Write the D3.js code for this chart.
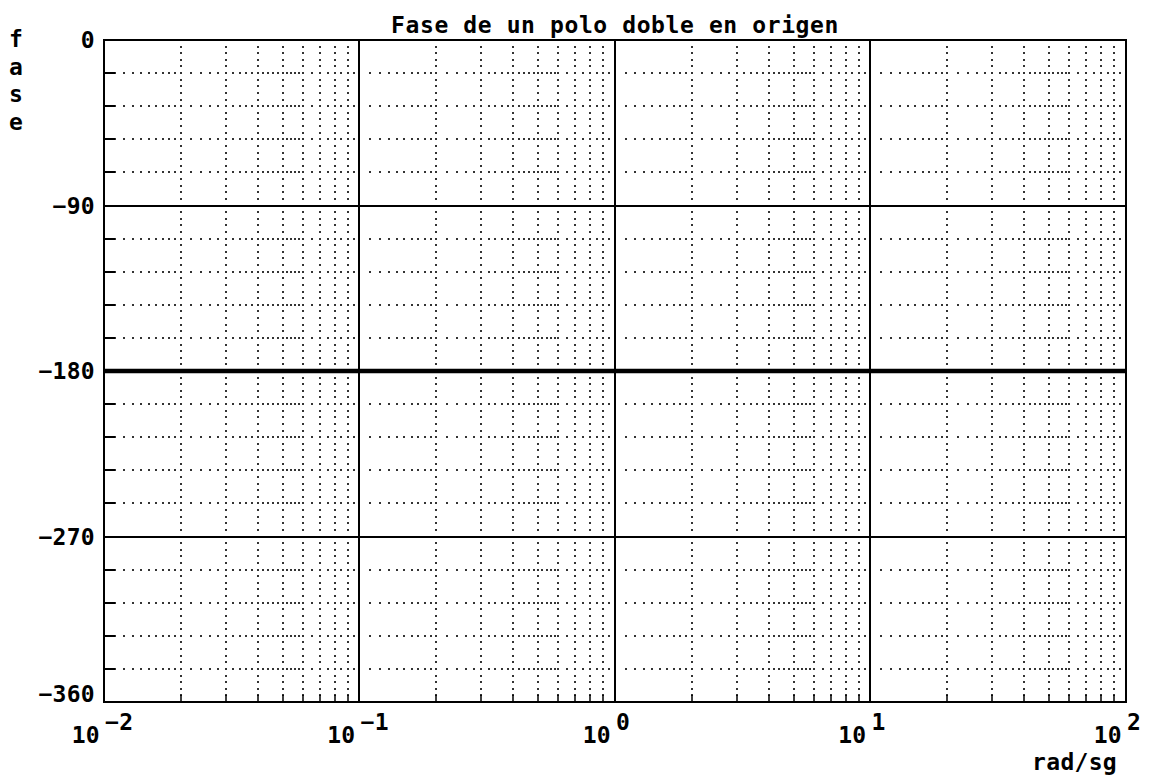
<!DOCTYPE html>
<html lang="es">
  <head>
    <meta charset="UTF-8" />
    <title>Fase de un polo doble en origen</title>
    <script src="https://d3js.org/d3.v7.min.js"></script>
    <style>
      body {
        margin: 0;
        background: #fff;
      }
      text {
        font-family: 'DejaVu Sans Mono', monospace;
        font-weight: bold;
        font-size: 23px;
        fill: #000;
      }
    </style>
  </head>
  <body>
    <div id="chart"></div>
    <script>
      // data
      const freqs = [0.01, 0.1, 1, 10, 100];
      const phase = [-180, -180, -180, -180, -180];
      const decadeExps = [-2, -1, 0, 1, 2];
      const phaseTicks = [0, -90, -180, -270, -360];
      const minorMult = [2, 3, 4, 5, 6, 7, 8, 9];
      // where the dots of the horizontal dotted rows fall inside a decade
      const rowDotMult = [
        1.1, 1.2, 1.3, 1.4, 1.5, 1.6, 1.7, 1.8, 1.9, 2.2, 2.4, 2.6, 2.8,
        3.2, 3.4, 3.6, 3.8, 4.2, 4.4, 4.6, 4.8, 5.2, 5.4, 5.6, 5.8, 6.5,
        7.5, 8.5, 9.5,
      ];
      const minorPhaseStep = 18;
      const dotPhaseStep = 3.6;

      const svgWidth = 1151;
      const svgHeight = 782;
      const margin = { top: 40, right: 25, bottom: 80, left: 104 };
      const width = svgWidth - margin.left - margin.right;
      const height = svgHeight - margin.top - margin.bottom;

      const svg = d3
        .select('#chart')
        .append('svg')
        .attr('width', svgWidth)
        .attr('height', svgHeight);

      const g = svg
        .append('g')
        .attr('transform', `translate(${margin.left},${margin.top})`);

      const x = d3.scaleLog().domain([0.01, 100]).range([0, width]);
      const y = d3.scaleLinear().domain([0, -360]).range([0, height]);

      // minor values
      const minorFreqs = [];
      const rowDotFreqs = [];
      decadeExps.slice(0, -1).forEach((e) => {
        const base = Math.pow(10, e);
        minorMult.forEach((m) => minorFreqs.push(m * base));
        rowDotMult.forEach((m) => rowDotFreqs.push(m * base));
      });
      const minorPhases = d3
        .range(0, -361, -minorPhaseStep)
        .filter((p) => p % 90 !== 0);
      const dotPhases = d3
        .range(1, 100)
        .map((i) => -i * dotPhaseStep)
        .filter((p) => p > -360);

      // vertical dotted lines
      const dots = g.append('g').attr('fill', '#333');
      minorFreqs.forEach((f) => {
        dots
          .selectAll(null)
          .data(dotPhases)
          .enter()
          .append('rect')
          .attr('x', Math.round(x(f)) - 1)
          .attr('y', (p) => Math.round(y(p)) - 1)
          .attr('width', 2)
          .attr('height', 2);
      });
      // horizontal dotted lines
      minorPhases.forEach((p) => {
        dots
          .selectAll(null)
          .data(rowDotFreqs)
          .enter()
          .append('rect')
          .attr('x', (f) => Math.round(x(f)) - 1)
          .attr('y', Math.round(y(p)) - 1)
          .attr('width', 2)
          .attr('height', 2);
      });

      // major grid
      g.selectAll('.vmajor')
        .data(freqs.slice(1, -1))
        .enter()
        .append('line')
        .attr('x1', (f) => Math.round(x(f)))
        .attr('x2', (f) => Math.round(x(f)))
        .attr('y1', 0)
        .attr('y2', height)
        .attr('stroke', '#000')
        .attr('stroke-width', 2);

      g.selectAll('.hmajor')
        .data(phaseTicks.slice(1, -1))
        .enter()
        .append('line')
        .attr('x1', 0)
        .attr('x2', width)
        .attr('y1', (p) => Math.round(y(p)))
        .attr('y2', (p) => Math.round(y(p)))
        .attr('stroke', '#000')
        .attr('stroke-width', 2);

      // small ticks on left and bottom
      g.selectAll('.ltick')
        .data(minorPhases)
        .enter()
        .append('line')
        .attr('x1', 0)
        .attr('x2', 11)
        .attr('y1', (p) => Math.round(y(p)))
        .attr('y2', (p) => Math.round(y(p)))
        .attr('stroke', '#000')
        .attr('stroke-width', 2);

      g.selectAll('.btick')
        .data(minorFreqs)
        .enter()
        .append('line')
        .attr('x1', (f) => Math.round(x(f)))
        .attr('x2', (f) => Math.round(x(f)))
        .attr('y1', height)
        .attr('y2', height - 7)
        .attr('stroke', '#000')
        .attr('stroke-width', 1.5);

      // phase curve
      const line = d3
        .line()
        .x((d) => x(d[0]))
        .y((d) => y(d[1]));
      g.append('path')
        .datum(freqs.map((f, i) => [f, phase[i]]))
        .attr('d', line)
        .attr('fill', 'none')
        .attr('stroke', '#000')
        .attr('stroke-width', 4.5);

      // frame
      g.append('rect')
        .attr('x', 0)
        .attr('y', 0)
        .attr('width', width)
        .attr('height', height)
        .attr('fill', 'none')
        .attr('stroke', '#000')
        .attr('stroke-width', 2);

      // y tick labels
      g.selectAll('.ylab')
        .data(phaseTicks)
        .enter()
        .append('text')
        .attr('x', -9)
        .attr('y', (p) => Math.min(y(p) + 8, height))
        .attr('text-anchor', 'end')
        .attr('letter-spacing', 0.3)
        .text((p) => (p === 0 ? '0' : '\u2212' + Math.abs(p)));

      // x tick labels 10^n
      const xl = g
        .selectAll('.xlab')
        .data(decadeExps)
        .enter()
        .append('g')
        .attr('transform', (e) => `translate(${x(Math.pow(10, e))},${height})`);
      xl.append('text')
        .attr('x', -4)
        .attr('y', 41)
        .attr('text-anchor', 'end')
        .attr('letter-spacing', 0.3)
        .text('10');
      xl.append('text')
        .attr('x', 1)
        .attr('y', 28)
        .attr('letter-spacing', 0.3)
        .text((e) => (e < 0 ? '\u2212' + Math.abs(e) : e));

      // title and axis names
      svg
        .append('text')
        .attr('x', margin.left + width / 2)
        .attr('y', 33)
        .attr('text-anchor', 'middle')
        .attr('letter-spacing', 0.6)
        .text('Fase de un polo doble en origen');

      svg
        .append('text')
        .attr('x', 1117)
        .attr('y', 770)
        .attr('text-anchor', 'end')
        .attr('letter-spacing', 0.3)
        .text('rad/sg');

      svg
        .selectAll('.flab')
        .data(['f', 'a', 's', 'e'])
        .enter()
        .append('text')
        .attr('x', 16)
        .attr('y', (d, i) => 47 + i * 27.7)
        .attr('text-anchor', 'middle')
        .text((d) => d);
    </script>
  </body>
</html>
